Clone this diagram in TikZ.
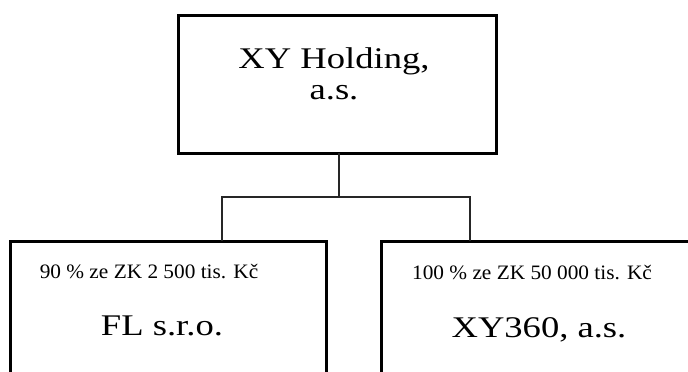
\documentclass[tikz,border=0pt]{standalone}
\usepackage{fontspec}
\setmainfont{Liberation Serif}
\newfontfamily\bigserif[FakeStretch=1.22]{Liberation Serif}
\newfontfamily\smallserif[FakeStretch=1.04]{Liberation Serif}
\begin{document}
\begin{tikzpicture}[x=1pt,y=-1pt,
  orgbox/.style={draw=black, line width=3pt, fill=none, inner sep=0pt, outer sep=0pt, anchor=north west},
  link/.style={draw=black!85, line width=1.4pt},
  bigtxt/.style={font=\bigserif\fontsize{30}{36}\selectfont, anchor=base, inner sep=0pt},
  smalltxt/.style={font=\smallserif\fontsize{20.5}{24}\selectfont, anchor=base, inner sep=0pt}]
\useasboundingbox (0,0) rectangle (688,372);
\clip (0,0) rectangle (688,372);
\node[orgbox, minimum width=318pt, minimum height=138pt] (top) at (178,15) {};
\node[orgbox, minimum width=316pt, minimum height=170pt] (fl) at (10,241) {};
\node[orgbox, minimum width=330pt, minimum height=170pt] (xy) at (381,241) {};
\node[bigtxt] (t1) at (334,68) {XY Holding,};
\node[bigtxt] (t2) at (334,99) {a.s.};
\node[smalltxt] (s1) at (149,278) {90 \% ze ZK 2 500 tis. Kč};
\node[smalltxt] (s2) at (532,279) {100 \% ze ZK 50 000 tis. Kč};
\node[bigtxt] (n1) at (162,335) {FL s.r.o.};
\node[bigtxt] (n2) at (539,337) {XY360, a.s.};
\coordinate (j) at (339,197);
\coordinate (jl) at (222,197);
\coordinate (jr) at (470,197);
\draw[link] (top.south -| j) -- (j);
\draw[link] (fl.north -| jl) -- (jl) -- (jr) -- (xy.north -| jr);
\end{tikzpicture}
\end{document}
